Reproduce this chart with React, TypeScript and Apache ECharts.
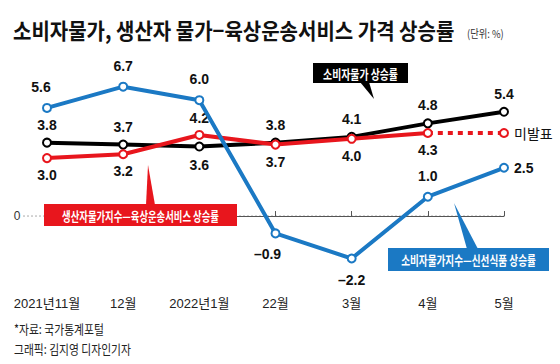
import React, { useEffect, useRef } from 'react';
import * as echarts from 'echarts';

const months = ['2021년11월', '12월', '2022년1월', '22월', '3월', '4월', '5월'];
const cpi = [3.8, 3.7, 3.6, 3.8, 4.1, 4.8, 5.4];
const ppiTransport = [3.0, 3.2, 4.2, 3.7, 4.0, 4.3];
const freshFood = [5.6, 6.7, 6.0, -0.9, -2.2, 1.0, 2.5];
const pendingLabel = '미발표';

const cpiLabelPos = ['top', 'top', 'bottom', 'top', 'top', 'top', 'top'];
const ppiLabelPos = ['bottom', 'bottom', 'top', 'bottom', 'bottom', 'bottom'];
const freshLabelPos = ['top', 'top', 'top', 'bottom', 'bottom', 'top', 'right'];
const freshLabelOffset: Record<number, number[]> = { 0: [-6, 0], 3: [-8, 0] };

const BLUE = '#1b79c4';
const RED = '#e8161d';
const BLACK = '#000000';
const NUM_FONT = "'Liberation Sans', Arial, 'Noto Sans CJK KR', sans-serif";
const KR_FONT = "'Noto Sans CJK KR', 'Liberation Sans', sans-serif";

const fmt = (v: number) => (v < 0 ? '–' + Math.abs(v).toFixed(1) : v.toFixed(1));

const labelBase = {
  show: true,
  fontFamily: NUM_FONT,
  fontSize: 14,
  fontWeight: 'bold',
  color: '#111',
  formatter: (p: any) => fmt(p.value),
};

const sym = (color: string) => ({
  symbol: 'circle',
  symbolSize: 8,
  showAllSymbol: true,
  itemStyle: { color: '#fff', borderColor: color, borderWidth: 2 },
});

export default function App() {
  const ref = useRef<HTMLDivElement>(null);
  useEffect(() => {
    const chart = echarts.init(ref.current!, null, { renderer: 'svg' });
    const option: any = {
      animation: false,
      backgroundColor: '#fff',
      grid: { left: 47, right: 56, top: 80.9, bottom: 77.5 },
      xAxis: {
        type: 'category',
        data: months,
        boundaryGap: false,
        axisLine: { lineStyle: { color: '#555', width: 1 } },
        axisTick: { show: true, inside: true, length: 5, interval: 0, lineStyle: { color: '#555' } },
        axisLabel: { interval: 0, hideOverlap: false, margin: 10, color: '#222', fontSize: 13, fontFamily: NUM_FONT },
      },
      yAxis: { type: 'value', min: -3.65, max: 7, show: false },
      series: [
        {
          type: 'line',
          name: '소비자물가 상승률',
          data: cpi.map((v, i) => ({ value: v, label: { position: cpiLabelPos[i] } })),
          lineStyle: { color: BLACK, width: 4 },
          ...sym(BLACK),
          label: { ...labelBase, distance: 6 },
          z: 2,
        },
        {
          type: 'line',
          name: '생산자물가지수–육상운송서비스 상승률',
          data: ppiTransport.map((v, i) => ({ value: v, label: { position: ppiLabelPos[i] } })),
          lineStyle: { color: RED, width: 4 },
          ...sym(RED),
          label: { ...labelBase, distance: 5 },
          z: 3,
        },
        {
          type: 'line',
          name: 'pending',
          data: months.map((_, i) => {
            if (i < ppiTransport.length - 1) return null;
            const last = ppiTransport[ppiTransport.length - 1];
            if (i === ppiTransport.length - 1) return { value: last, symbol: 'none', label: { show: false } };
            return { value: last };
          }),
          lineStyle: { color: RED, width: 4, type: [5, 5] },
          ...sym(RED),
          label: {
            show: true,
            position: 'right',
            distance: 5,
            formatter: pendingLabel,
            fontFamily: KR_FONT,
            fontSize: 14,
            color: '#111',
          },
          z: 3,
        },
        {
          type: 'line',
          name: '소비자물가지수–신선식품 상승률',
          data: freshFood.map((v, i) => ({
            value: v,
            label: {
              position: freshLabelPos[i],
              offset: freshLabelOffset[i] || [0, 0],
              distance: freshLabelPos[i] === 'right' ? 5 : 9,
            },
          })),
          lineStyle: { color: BLUE, width: 4 },
          ...sym(BLUE),
          label: { ...labelBase, distance: 9 },
          z: 4,
        },
      ],
    };
    chart.setOption(option);

    const y0 = chart.convertToPixel({ yAxisIndex: 0 }, 0) as number;
    const xEnd = chart.convertToPixel({ xAxisIndex: 0 }, months[months.length - 1]) as number;

    const boxText = (text: string, cx: number, cy: number, size: number, sx: number) => ({
      type: 'text',
      x: cx,
      y: cy,
      scaleX: sx,
      z: 20,
      style: {
        text,
        fill: '#fff',
        fontFamily: KR_FONT,
        fontSize: size,
        fontWeight: 'bold',
        align: 'center',
        verticalAlign: 'middle',
      },
    });

    chart.setOption({
      graphic: [
        {
          type: 'text',
          x: 13,
          y: 30,
          scaleX: 0.91,
          style: {
            text: '소비자물가, 생산자 물가−육상운송서비스 가격 상승률',
            fill: '#111',
            fontFamily: KR_FONT,
            fontSize: 22,
            fontWeight: 'bold',
            align: 'left',
            verticalAlign: 'middle',
          },
        },
        {
          type: 'text',
          x: 467,
          y: 33,
          scaleX: 0.85,
          style: {
            text: '(단위: %)',
            fill: '#333',
            fontFamily: KR_FONT,
            fontSize: 11,
            align: 'left',
            verticalAlign: 'middle',
          },
        },
        {
          type: 'line',
          z: 0,
          shape: { x1: 23, y1: y0, x2: xEnd, y2: y0 },
          style: { stroke: '#aaa', lineWidth: 1, lineDash: [2, 2] },
        },
        {
          type: 'text',
          x: 17,
          y: y0,
          style: {
            text: '0',
            fill: '#333',
            fontFamily: NUM_FONT,
            fontSize: 12,
            align: 'center',
            verticalAlign: 'middle',
          },
        },
        // red callout
        { type: 'polygon', z: 19, shape: { points: [[146, 205], [155, 205], [148, 165]] }, style: { fill: RED } },
        { type: 'rect', z: 19, shape: { x: 44, y: 204, width: 193, height: 22 }, style: { fill: RED } },
        boxText('생산자물가지수—육상운송서비스 상승률', 140.5, 215.5, 13, 0.72),
        // black callout
        { type: 'polygon', z: 19, shape: { points: [[360, 82], [369, 82], [374, 99]] }, style: { fill: BLACK } },
        { type: 'rect', z: 19, shape: { x: 313, y: 63, width: 95, height: 20 }, style: { fill: BLACK } },
        boxText('소비자물가 상승률', 360.5, 73, 13, 0.76),
        // blue callout
        { type: 'polygon', z: 19, shape: { points: [[467, 249], [478, 249], [454, 203]] }, style: { fill: BLUE } },
        { type: 'rect', z: 19, shape: { x: 388, y: 248, width: 161, height: 23 }, style: { fill: BLUE } },
        boxText('소비자물가지수—신선식품 상승률', 468.5, 259.5, 13, 0.74),
        // footnotes
        {
          type: 'text',
          x: 14,
          y: 328,
          scaleX: 0.83,
          style: { text: '*자료: 국가통계포털', fill: '#222', fontFamily: KR_FONT, fontSize: 13, align: 'left', verticalAlign: 'middle' },
        },
        {
          type: 'text',
          x: 14,
          y: 348,
          scaleX: 0.83,
          style: { text: '그래픽: 김지영 디자인기자', fill: '#222', fontFamily: KR_FONT, fontSize: 13, align: 'left', verticalAlign: 'middle' },
        },
      ],
    });

    return () => chart.dispose();
  }, []);
  return (
    <div
      ref={ref}
      style={{ position: 'absolute', left: 0, top: 0, width: 560, height: 364, background: '#fff' }}
    />
  );
}
